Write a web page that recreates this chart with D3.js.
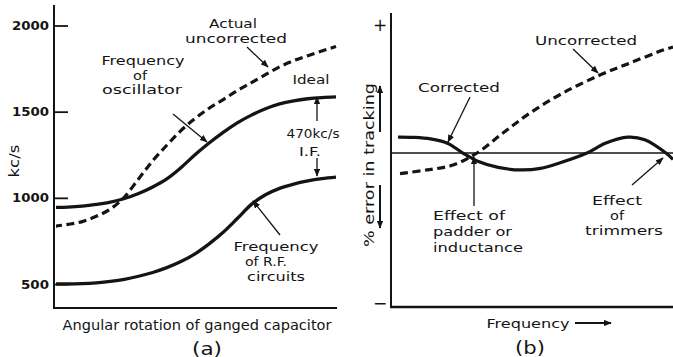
<!DOCTYPE html>
<html>
<head>
<meta charset="utf-8">
<script src="https://cdn.jsdelivr.net/npm/d3@7"></script>
<style>
  html, body { margin: 0; padding: 0; background: #fff; }
  svg { display: block; }
  text { font-family: "DejaVu Sans", sans-serif; fill: #141414; }
</style>
</head>
<body>
<script>
// ---- Panel (a): frequency vs. angular rotation of the ganged capacitor ----
const rotation = [0, 5, 10, 15, 20, 25, 30, 35, 40, 45, 50, 55, 60, 65, 70, 75, 80, 85, 90, 95, 100];
const oscillatorIdeal = [944, 946, 952, 962, 975, 996, 1025, 1063, 1110, 1175, 1250, 1318, 1380, 1435, 1480, 1517, 1545, 1563, 1575, 1582, 1586];
const actualUncorrected = [835, 846, 862, 893, 935, 1005, 1110, 1215, 1305, 1390, 1460, 1520, 1570, 1622, 1668, 1715, 1760, 1796, 1825, 1852, 1878];
const rfCircuits = [500, 500, 502, 507, 515, 527, 545, 567, 595, 630, 675, 733, 800, 880, 962, 1018, 1055, 1080, 1098, 1111, 1120];
const freqTicks = [500, 1000, 1500, 2000];

// ---- Panel (b): % error in tracking vs. frequency ----
const freqCorrected = [2.5, 8, 14, 20, 25.5, 31, 38, 46, 53, 60, 69.5, 76, 84, 90, 97.5, 100];
const errCorrected = [0.62, 0.61, 0.55, 0.38, 0.0, -0.33, -0.56, -0.66, -0.6, -0.38, 0.0, 0.38, 0.62, 0.52, 0.0, -0.25];
const freqUncorrected = [3.2, 12.8, 22, 30.5, 39.7, 49.3, 61, 74.1, 84.8, 96.5, 100];
const errUncorrected = [-0.8, -0.66, -0.47, 0.0, 0.78, 1.56, 2.34, 3.04, 3.51, 4.01, 4.13];
const errTicks = [5, -5.85];
const errTickLabels = ["+", "\u2212"];

const W = 673, H = 357;
const svg = d3.select("body").append("svg")
  .attr("width", W).attr("height", H)
  .attr("viewBox", `0 0 ${W} ${H}`);
svg.append("rect").attr("width", W).attr("height", H).attr("fill", "#fff");

const ink = "#141414";

// arrowhead marker for the pointer lines
svg.append("defs").append("marker")
  .attr("id", "head")
  .attr("viewBox", "0 0 10 8")
  .attr("refX", 9).attr("refY", 4)
  .attr("markerWidth", 8).attr("markerHeight", 6.4)
  .attr("markerUnits", "userSpaceOnUse")
  .attr("orient", "auto")
  .append("path").attr("d", "M0,0 L10,4 L0,8 Z").attr("fill", ink);

function pointer(g, x1, y1, x2, y2, w) {
  g.append("line")
    .attr("x1", x1).attr("y1", y1).attr("x2", x2).attr("y2", y2)
    .attr("stroke", ink).attr("stroke-width", w || 1.3)
    .attr("marker-end", "url(#head)");
}

function label(g, txt, x, y, len, opts) {
  opts = opts || {};
  const t = g.append("text")
    .attr("x", x).attr("y", y)
    .attr("text-anchor", opts.anchor || "middle")
    .attr("dominant-baseline", "central")
    .attr("font-size", opts.size || 13)
    .text(txt);
  if (len) t.attr("textLength", len).attr("lengthAdjust", "spacingAndGlyphs");
  if (opts.rotate) t.attr("transform", `rotate(-90 ${x} ${y})`);
  return t;
}

// ================= Panel (a) =================
const ga = svg.append("g");
const xa = d3.scaleLinear().domain([0, 100]).range([54, 336]);
const ya = d3.scaleLinear().domain([500, 2000]).range([284, 25.5]);

// axes
ga.append("line").attr("x1", 54).attr("x2", 54).attr("y1", 5).attr("y2", 309)
  .attr("stroke", ink).attr("stroke-width", 2);
ga.append("line").attr("x1", 53).attr("x2", 337).attr("y1", 308).attr("y2", 308)
  .attr("stroke", ink).attr("stroke-width", 2);

const axA = ga.append("g").attr("transform", "translate(54,0)")
  .call(d3.axisLeft(ya).tickValues(freqTicks).tickSizeInner(-14).tickSizeOuter(0).tickPadding(5).tickFormat(d3.format("d")));
axA.select(".domain").remove();
axA.selectAll(".tick line").attr("stroke", ink).attr("stroke-width", 1.8);
axA.selectAll(".tick text")
  .attr("font-family", "DejaVu Sans, sans-serif")
  .attr("font-size", 12.5).attr("font-weight", "bold").attr("fill", ink)
  .attr("textLength", d => d >= 1000 ? 37 : 28).attr("lengthAdjust", "spacingAndGlyphs");

const lineA = ys => d3.line()
  .x((d, i) => xa(rotation[i]))
  .y(d => ya(d))
  .curve(d3.curveMonotoneX)(ys);

// curves start just right of the axis line
ga.append("clipPath").attr("id", "clipA").append("rect")
  .attr("x", 56).attr("y", 0).attr("width", 281).attr("height", 310);
const curvesA = ga.append("g").attr("clip-path", "url(#clipA)");
curvesA.append("path").attr("d", lineA(rfCircuits))
  .attr("fill", "none").attr("stroke", ink).attr("stroke-width", 3.3);
curvesA.append("path").attr("d", lineA(oscillatorIdeal))
  .attr("fill", "none").attr("stroke", ink).attr("stroke-width", 3.3);
curvesA.append("path").attr("d", lineA(actualUncorrected))
  .attr("fill", "none").attr("stroke", ink).attr("stroke-width", 3.2)
  .attr("stroke-dasharray", "8,4.5");

// labels and pointers
label(ga, "Actual", 233, 23, 48);
label(ga, "uncorrected", 236, 38, 102);
pointer(ga, 247, 47, 268, 67);

label(ga, "Frequency", 143, 60, 83);
label(ga, "of", 140, 75, 14);
label(ga, "oscillator", 142, 89, 80);
pointer(ga, 173, 114, 207, 142);

label(ga, "Ideal", 311, 79, 37);
label(ga, "470kc/s", 313, 133, 53);
label(ga, "I.F.", 310, 151, 22);
pointer(ga, 317, 121, 317, 97);
pointer(ga, 317, 158, 317, 176);

label(ga, "Frequency", 276, 246, 85);
label(ga, "of R.F.", 266, 261, 42);
label(ga, "circuits", 276, 276, 58);
pointer(ga, 280, 235, 253, 201);

label(ga, "Angular rotation of ganged capacitor", 197, 325, 269, { size: 13.5 });
label(ga, "(a)", 207, 348, 30, { size: 18 });
label(ga, "kc/s", 14, 161, 33, { rotate: true, size: 14 });

// ================= Panel (b) =================
const gb = svg.append("g");
const xb = d3.scaleLinear().domain([0, 100]).range([391, 673]);
const yb = d3.scaleLinear().domain([-6, 5]).range([307, 24.7]);

gb.append("line").attr("x1", 391).attr("x2", 391).attr("y1", 13).attr("y2", 308)
  .attr("stroke", ink).attr("stroke-width", 2);
gb.append("line").attr("x1", 390).attr("x2", 673).attr("y1", 307).attr("y2", 307)
  .attr("stroke", ink).attr("stroke-width", 2.4);
gb.append("line").attr("x1", xb(0)).attr("x2", xb(100)).attr("y1", yb(0)).attr("y2", yb(0))
  .attr("stroke", ink).attr("stroke-width", 1.4);

gb.selectAll(".errTick").data(errTicks).join("text")
  .attr("class", "errTick")
  .attr("x", 380).attr("y", d => yb(d))
  .attr("text-anchor", "middle").attr("dominant-baseline", "central")
  .attr("font-size", 17)
  .text((d, i) => errTickLabels[i]);

gb.append("clipPath").attr("id", "clipB").append("rect")
  .attr("x", 393).attr("y", 0).attr("width", 280).attr("height", 306);
const curvesB = gb.append("g").attr("clip-path", "url(#clipB)");
curvesB.append("path")
  .attr("d", d3.line().x((d, i) => xb(freqUncorrected[i])).y(d => yb(d))
    .curve(d3.curveCatmullRom.alpha(0.5))(errUncorrected))
  .attr("fill", "none").attr("stroke", ink).attr("stroke-width", 3.2)
  .attr("stroke-dasharray", "8,4.5");
curvesB.append("path")
  .attr("d", d3.line().x((d, i) => xb(freqCorrected[i])).y(d => yb(d))
    .curve(d3.curveCatmullRom.alpha(0.5))(errCorrected))
  .attr("fill", "none").attr("stroke", ink).attr("stroke-width", 3.2);

label(gb, "Uncorrected", 586, 40, 102);
pointer(gb, 573, 49, 598, 73);
label(gb, "Corrected", 459, 87, 82);
pointer(gb, 470, 97, 448, 142);

label(gb, "Effect of", 433, 215, 72, { anchor: "start" });
label(gb, "padder or", 433, 231, 79, { anchor: "start" });
label(gb, "inductance", 433, 247, 90, { anchor: "start" });
pointer(gb, 474, 206, 474, 157);

label(gb, "Effect", 617, 200, 50);
label(gb, "of", 617, 215, 14);
label(gb, "trimmers", 624, 230, 78);
pointer(gb, 632, 185, 663, 158);

label(gb, "Frequency", 528, 323, 83);
pointer(gb, 575, 323, 611, 323, 1.8);
label(gb, "(b)", 530, 347, 30, { size: 18 });

label(gb, "% error in tracking", 369, 165, 164, { rotate: true, size: 14 });
pointer(gb, 380, 132, 380, 86, 2);
pointer(gb, 380, 185, 380, 228, 2);
</script>
</body>
</html>
